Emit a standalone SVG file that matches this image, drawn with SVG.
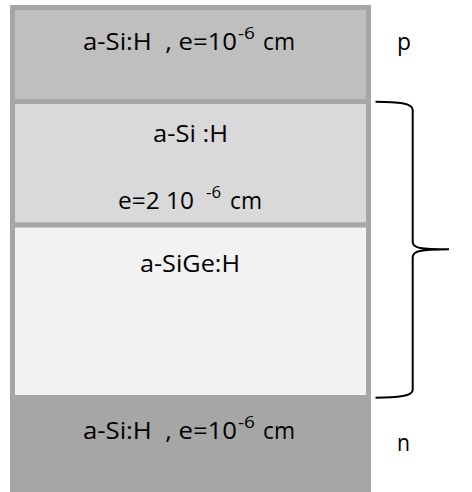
<svg xmlns="http://www.w3.org/2000/svg" width="472" height="492" viewBox="0 0 472 492">
  <style>
    text { font-family: "Open Sans", "Liberation Sans", sans-serif; font-size: 23.5px; fill: #000; white-space: pre; }
    .sup { font-size: 16px; }
    .layer { stroke: #a6a6a6; stroke-width: 5; }
    .brace { fill: none; stroke: #000; stroke-width: 2; }
  </style>
  <rect width="472" height="492" fill="#fff"/>

  <!-- p layer -->
  <g id="layer-p">
    <rect class="layer" x="12.5" y="7.5" width="356" height="94" fill="#bfbfbf"/>
    <text x="83" y="50" textLength="154" lengthAdjust="spacingAndGlyphs">a-Si:H  , e=10</text>
    <text class="sup" x="238" y="39" textLength="17" lengthAdjust="spacingAndGlyphs">-6</text>
    <text x="263" y="50" textLength="32" lengthAdjust="spacingAndGlyphs">cm</text>
  </g>

  <!-- intrinsic a-Si:H layer -->
  <g id="layer-asi">
    <rect class="layer" x="12.5" y="101.5" width="356" height="123.5" fill="#d9d9d9"/>
    <text x="153" y="142" textLength="75" lengthAdjust="spacingAndGlyphs">a-Si :H</text>
    <text x="118" y="209" textLength="76" lengthAdjust="spacingAndGlyphs">e=2 10</text>
    <text class="sup" x="206" y="198" textLength="15" lengthAdjust="spacingAndGlyphs">-6</text>
    <text x="230" y="209" textLength="32" lengthAdjust="spacingAndGlyphs">cm</text>
  </g>

  <!-- a-SiGe:H absorber -->
  <g id="layer-asige">
    <rect class="layer" x="12.5" y="225" width="356" height="172.5" fill="#f2f2f2"/>
    <text x="140" y="272" textLength="100" lengthAdjust="spacingAndGlyphs">a-SiGe:H</text>
  </g>

  <!-- n layer -->
  <g id="layer-n">
    <rect x="10" y="395" width="361" height="97" fill="#a6a6a6"/>
    <text x="83" y="439" textLength="154" lengthAdjust="spacingAndGlyphs">a-Si:H  , e=10</text>
    <text class="sup" x="238" y="428" textLength="17" lengthAdjust="spacingAndGlyphs">-6</text>
    <text x="263" y="439" textLength="32" lengthAdjust="spacingAndGlyphs">cm</text>
  </g>

  <!-- side labels -->
  <g id="label-p"><text x="397" y="50" textLength="14" lengthAdjust="spacingAndGlyphs">p</text></g>
  <g id="label-n"><text x="397" y="451" textLength="13" lengthAdjust="spacingAndGlyphs">n</text></g>

  <!-- brace spanning the intrinsic stack -->
  <g id="connectors">
    <path class="brace" d="M375.5,101.7 C398,102 412.7,103 412.7,110 L412.7,242 C412.7,248 420,249.3 449,249.3 C420,249.3 412.7,251 412.7,257 L412.7,390 C412.7,396 398,397.7 375.5,397.7"/>
  </g>
</svg>
